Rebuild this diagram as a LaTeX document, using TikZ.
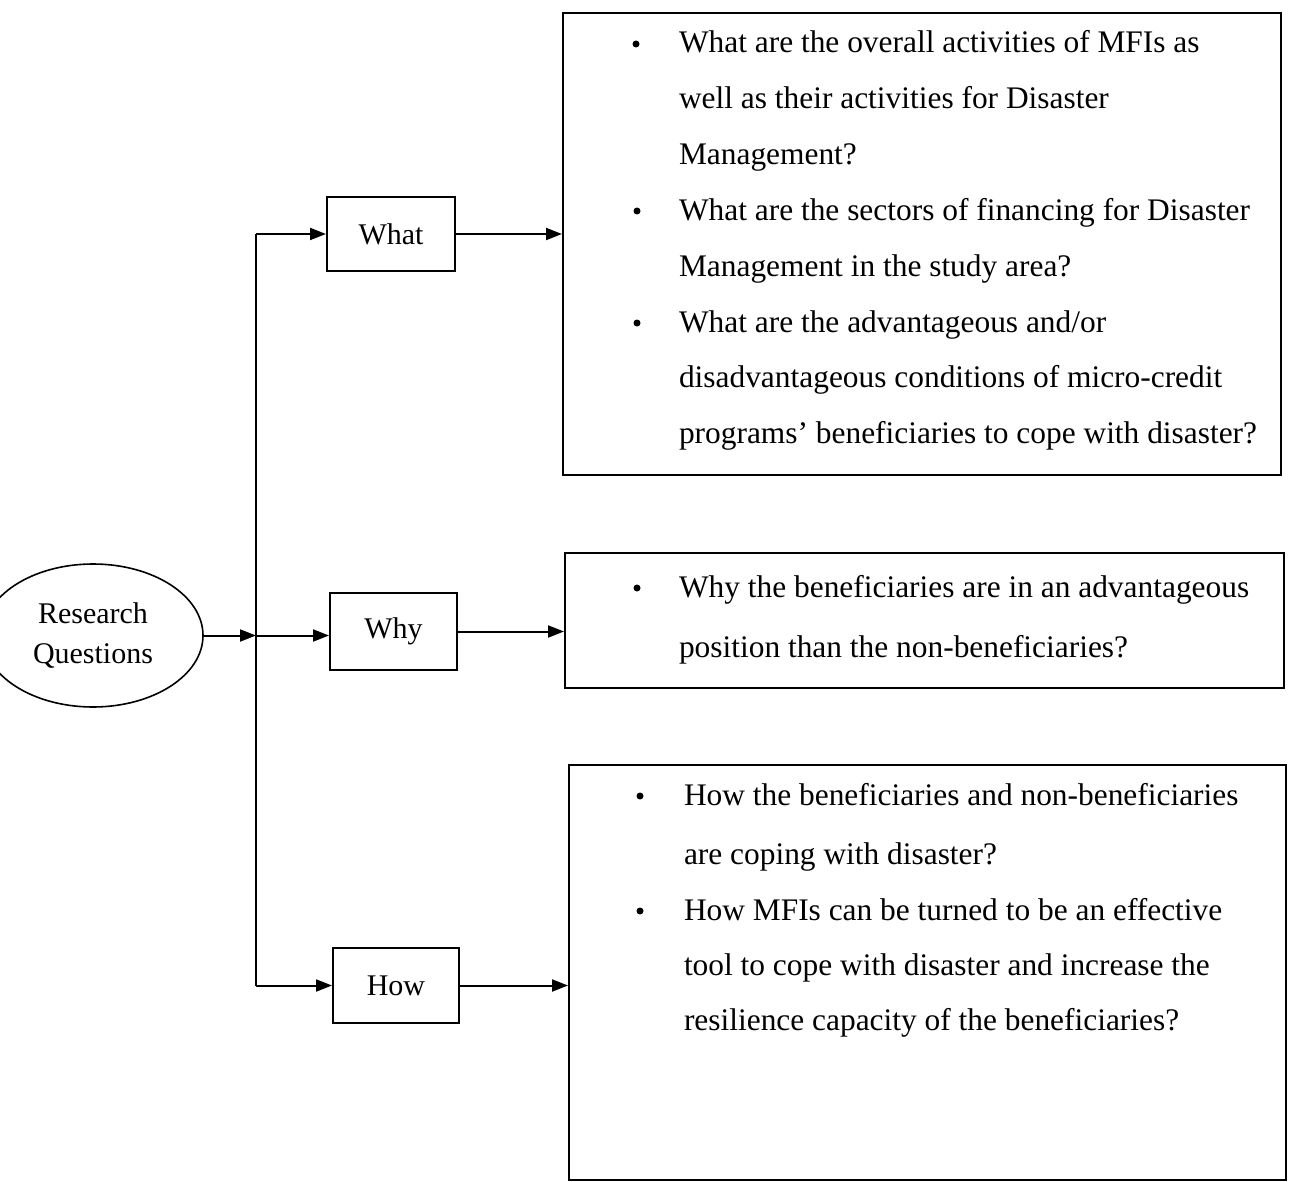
\documentclass[tikz,border=0pt]{standalone}
\usepackage{fontspec}
\setmainfont{Liberation Serif}
\usetikzlibrary{arrows.meta,shapes.geometric}
\begin{document}
\begin{tikzpicture}[x=1pt,y=-1pt,
  line width=2pt,
  arr/.style={-{Triangle[length=16pt,width=12pt]}},
  qbox/.style={draw,rectangle,inner sep=0pt,font=\fontsize{30}{36}\selectfont},
  abox/.style={draw,rectangle,inner sep=0pt},
  itemtext/.style={anchor=north west,inner sep=0pt,align=left},
  bul/.style={circle,fill=black,inner sep=0pt,minimum size=7pt}
]
\useasboundingbox (0,0) rectangle (1290,1182);
% root
\node[draw,ellipse,line width=1.6pt,minimum width=220pt,minimum height=143pt,inner sep=0pt,align=center,
      font=\fontsize{30}{40}\selectfont] (RQ) at (93,635.5) {Research\\Questions};
% question boxes
\node[qbox,minimum width=128pt,minimum height=74pt] (What) at (391,234) {What};
\node[qbox,minimum width=127pt,minimum height=77pt] (Why) at (393.5,631.5) {Why};
\node[qbox,minimum width=126pt,minimum height=75pt] (How) at (396,985.5) {How};
% answer boxes
\node[abox,minimum width=718pt,minimum height=462pt] (A1) at (922,244) {};
\node[abox,minimum width=719pt,minimum height=135pt] (A2) at (924.5,620.5) {};
\node[abox,minimum width=717pt,minimum height=415pt] (A3) at (927.5,972.5) {};
% junction
\coordinate (J) at (256,635.5);
\draw[arr] (RQ.east) -- (J);
\draw (J |- What.west) -- (J |- How.west);
\draw[arr] (J |- What.west) -- (What.west);
\draw[arr] (J) -- (J -| Why.west);
\draw[arr] (J |- How.west) -- (How.west);
\draw[arr] (What.east) -- (What.east -| A1.west);
\draw[arr] (Why.east) -- (Why.east -| A2.west);
\draw[arr] (How.east) -- (How.east -| A3.west);
% box 1 items
\node[bul] (b1) at (636,44) {};
\node[itemtext,font=\fontsize{31.4}{55.8}\selectfont] (t1) at (678,29)
 {\rule{0pt}{23pt}What are the overall activities of MFIs as\\well as their activities for Disaster\\Management?};
\node[bul] (b2) at (637,211) {};
\node[itemtext,font=\fontsize{31.4}{55.8}\selectfont] (t2) at (678,196.4)
 {\rule{0pt}{23pt}What are the sectors of financing for Disaster\\Management in the study area?};
\node[bul] (b3) at (637,323) {};
\node[itemtext,font=\fontsize{31.4}{55.8}\selectfont] (t3) at (678,308)
 {\rule{0pt}{23pt}What are the advantageous and/or\\disadvantageous conditions of micro-credit\\programs' beneficiaries to cope with disaster?};
% box 2 item
\node[bul] (b4) at (637,588) {};
\node[itemtext,font=\fontsize{31.4}{60}\selectfont] (t4) at (678,573)
 {\rule{0pt}{23pt}Why the beneficiaries are in an advantageous\\position than the non-beneficiaries?};
% box 3 items
\node[bul] (b5) at (640,796) {};
\node[itemtext,font=\fontsize{31.4}{59}\selectfont] (t5) at (683,781)
 {\rule{0pt}{23pt}How the beneficiaries and non-beneficiaries\\are coping with disaster?};
\node[bul] (b6) at (640,911) {};
\node[itemtext,font=\fontsize{31.4}{55}\selectfont] (t6) at (683,896)
 {\rule{0pt}{23pt}How MFIs can be turned to be an effective\\tool to cope with disaster and increase the\\resilience capacity of the beneficiaries?};
\end{tikzpicture}
\end{document}
